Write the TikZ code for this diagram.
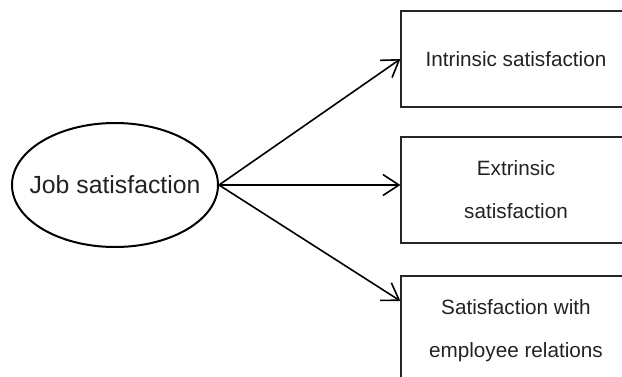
\documentclass[tikz,border=0pt]{standalone}
\usepackage{fontspec}
\setmainfont{Liberation Sans}
\usetikzlibrary{shapes.geometric,arrows.meta,calc}
\definecolor{ink}{HTML}{222222}
\tikzset{
  ring/.style={ellipse, draw=black, line width=2pt, minimum width=206pt,
    minimum height=124pt, inner sep=0pt},
  label/.style={text=ink, inner sep=0pt, font=\fontsize{24.8}{28}\selectfont},
  factor/.style={rectangle, draw=black!85, line width=1.2pt, minimum width=230pt,
    inner sep=0pt, align=center, text=ink,
    font=\fontsize{20.7}{43}\selectfont},
  link/.style={line width=1.6pt, -{Straight Barb[length=16pt,width=21pt,line width=1.6pt]}}
}
\begin{document}
\begin{tikzpicture}[x=1pt,y=-1pt]
  \useasboundingbox (0,0) rectangle (622,376);
  \clip (0,0) rectangle (622,376);
  % the construct: an ellipse with its caption
  \node[ring] (job) at (115,185) {};
  \node[label] (jobtext) at (job.center) {Job satisfaction};
  % the three factors
  \node[factor, minimum height=96pt] (intr) at (516,59) {Intrinsic satisfaction};
  \node[factor, minimum height=106pt] (extr) at (516,190) {Extrinsic\\satisfaction};
  \node[factor, minimum height=110pt] (empl) at (516,331) {Satisfaction with\\employee relations};
  \coordinate (emplin) at ($(empl.north west)!0.23!(empl.south west)$);
  \draw[link] (job.east) -- (intr.west);
  \draw[link] (job.east) -- (extr.west |- job.east);
  \draw[link] (job.east) -- (emplin);
\end{tikzpicture}
\end{document}
